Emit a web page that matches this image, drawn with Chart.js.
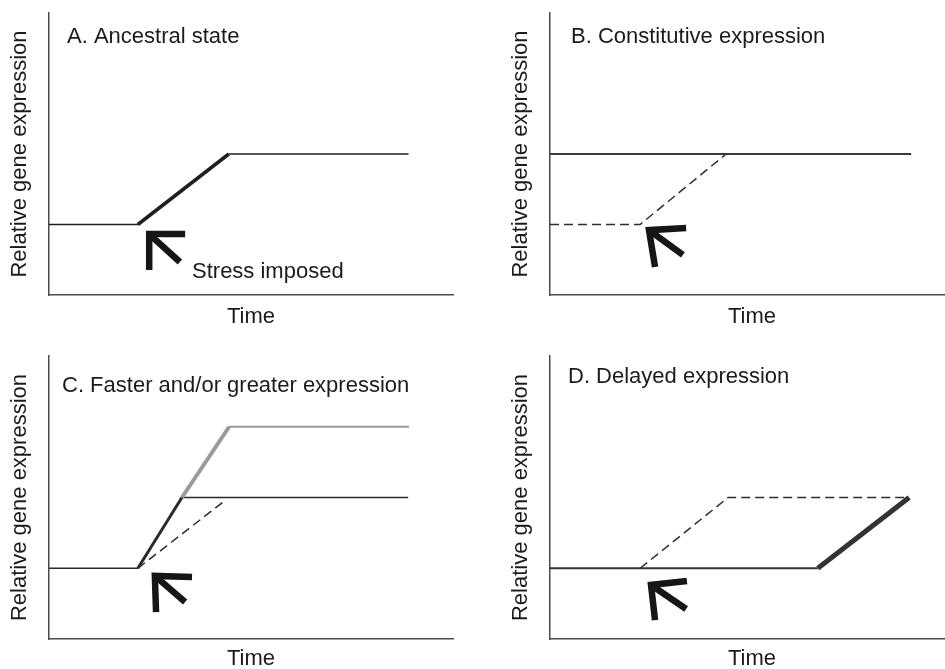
<!DOCTYPE html>
<html>
<head>
<meta charset="utf-8">
<script src="https://cdn.jsdelivr.net/npm/chart.js@4.4.1/dist/chart.umd.min.js"></script>
<style>
  html, body { margin: 0; padding: 0; background: #fff; overflow: hidden; width: 945px; height: 669px; }
  .panel { position: absolute; }
</style>
</head>
<body>
<div class="panel" style="left:0;top:0;width:470px;height:330px"><canvas id="cA"></canvas></div>
<div class="panel" style="left:470px;top:0;width:500px;height:330px"><canvas id="cB"></canvas></div>
<div class="panel" style="left:0;top:330px;width:470px;height:339px"><canvas id="cC"></canvas></div>
<div class="panel" style="left:470px;top:330px;width:500px;height:339px"><canvas id="cD"></canvas></div>
<script>
// ---------- DATA ----------
const panelTitles = ["A. Ancestral state", "B. Constitutive expression", "C. Faster and/or greater expression", "D. Delayed expression"];
const xAxisTitle = "Time";
const yAxisTitle = "Relative gene expression";
const stressLabel = "Stress imposed";

// Panel A – ancestral response
const aTime = [0, 2.2, 4.45, 8.9];
const aExpr = [2.5, 2.5, 5, 5];

// Panel B – constitutive (solid) vs ancestral (dashed)
const bDerivedTime = [0, 8.94];
const bDerivedExpr = [5, 5];
const bAncestralTime = [0, 2.23, 4.36];
const bAncestralExpr = [2.5, 2.5, 5];

// Panel C – faster (dark) / greater (grey) vs ancestral (dashed)
const cFasterTime = [0, 2.2, 3.29, 8.89];
const cFasterExpr = [2.5, 2.5, 5, 5];
const cGreaterTime = [3.29, 4.46, 8.91];
const cGreaterExpr = [5, 7.5, 7.5];
const cAncestralTime = [2.2, 4.38];
const cAncestralExpr = [2.5, 4.92];

// Panel D – delayed (solid) vs ancestral (dashed)
const dDelayedTime = [0, 6.63, 8.89];
const dDelayedExpr = [2.5, 2.5, 5];
const dAncestralTime = [2.23, 4.41, 8.89];
const dAncestralExpr = [2.5, 5, 5];

// Stress arrows (head: leg end, tip, leg end; shaft: tip, tail)
const aArrowHeadX = [2.48, 2.48, 3.37]; const aArrowHeadY = [0.89, 2.16, 2.16];
const aArrowShaftX = [2.48, 3.24];      const aArrowShaftY = [2.16, 1.17];
const bArrowHeadX = [2.6, 2.45, 3.37];  const bArrowHeadY = [0.99, 2.3, 2.38];
const bArrowShaftX = [2.45, 3.29];      const bArrowShaftY = [2.3, 1.42];
const cArrowHeadX = [2.65, 2.62, 3.54]; const cArrowHeadY = [0.95, 2.23, 2.19];
const cArrowShaftX = [2.62, 3.37];      const cArrowShaftY = [2.23, 1.31];
const dArrowHeadX = [2.6, 2.5, 3.39];   const dArrowHeadY = [0.67, 1.91, 2.05];
const dArrowShaftX = [2.5, 3.37];       const dArrowShaftY = [1.91, 1.06];

// Axis range
const xRange = [0, 10];
const yRange = [0, 10];

// ---------- HELPERS ----------
const FONT = "'Liberation Sans', Arial, Helvetica, sans-serif";
const INK = "#1e1a1b";
function pts(xs, ys) { return xs.map((x, i) => ({ x: x, y: ys[i] })); }
function line(xs, ys, style) {
  const widths = style.widths;
  return Object.assign({
    data: pts(xs, ys),
    showLine: true,
    pointRadius: 0,
    pointHoverRadius: 0,
    tension: 0,
    fill: false,
    borderCapStyle: 'butt',
    borderJoinStyle: 'miter',
    segment: widths ? { borderWidth: ctx => widths[ctx.p0DataIndex] } : undefined
  }, style.ds);
}
function arrow(hx, hy, sx, sy) {
  return [
    line(hx, hy, { ds: { borderColor: '#161616', borderWidth: 6.5 } }),
    line(sx, sy, { ds: { borderColor: '#161616', borderWidth: 6.5 } })
  ];
}

const textPlugin = {
  id: 'panelText',
  afterDraw(chart, args, opts) {
    const ctx = chart.ctx, ca = chart.chartArea;
    ctx.save();
    ctx.fillStyle = INK;
    ctx.font = "22px " + FONT;
    ctx.textBaseline = 'alphabetic';
    ctx.textAlign = 'left';
    ctx.fillText(opts.title, ca.left + opts.tdx, ca.top + opts.tdy);
    if (opts.note) {
      const xs = chart.scales.x, ys = chart.scales.y;
      ctx.fillText(opts.note, xs.getPixelForValue(opts.noteX), ys.getPixelForValue(opts.noteY));
    }
    ctx.restore();
  }
};

function makeChart(id, datasets, p) {
  new Chart(document.getElementById(id), {
    type: 'scatter',
    data: { datasets: datasets },
    plugins: [textPlugin],
    options: {
      responsive: true,
      maintainAspectRatio: false,
      animation: false,
      events: [],
      layout: { autoPadding: false, padding: { left: p.padLeft, top: p.padTop, right: p.padRight, bottom: 0 } },
      plugins: {
        legend: { display: false },
        tooltip: { enabled: false },
        panelText: p.text
      },
      scales: {
        x: {
          type: 'linear', min: xRange[0], max: xRange[1],
          grid: { display: false, drawTicks: false },
          border: { display: true, color: '#4a4a4a', width: 1.5 },
          ticks: { display: false },
          title: { display: true, text: xAxisTitle, color: INK, font: { family: FONT, size: 22, lineHeight: 1 }, padding: { top: 0, bottom: p.xTitlePad } },
          afterFit: s => { s.height = p.xHeight; }
        },
        y: {
          type: 'linear', min: yRange[0], max: yRange[1],
          grid: { display: false, drawTicks: false },
          border: { display: true, color: '#4a4a4a', width: 1.5 },
          ticks: { display: false },
          title: { display: true, text: yAxisTitle, color: INK, font: { family: FONT, size: 22, lineHeight: 1 }, padding: { top: 9, bottom: 0 } },
          afterFit: s => { s.width = 49; }
        }
      }
    }
  });
}

const dashed = { borderColor: '#2e2e2e', borderWidth: 1.5, borderDash: [9, 5] };

// Panel A
makeChart('cA', [
  line(aTime, aExpr, { widths: [1.5, 3.5, 1.5], ds: { borderColor: '#1f1f1f' } }),
  ...arrow(aArrowHeadX, aArrowHeadY, aArrowShaftX, aArrowShaftY)
], { padLeft: 0, padTop: 13, padRight: 17, xHeight: 35, xTitlePad: 2,
     text: { title: panelTitles[0], tdx: 18, tdy: 30, note: stressLabel, noteX: 3.54, noteY: 0.6 } });

// Panel B
makeChart('cB', [
  line(bDerivedTime, bDerivedExpr, { ds: { borderColor: '#3a3a3a', borderWidth: 2.2 } }),
  line(bAncestralTime, bAncestralExpr, { ds: dashed }),
  ...arrow(bArrowHeadX, bArrowHeadY, bArrowShaftX, bArrowShaftY)
], { padLeft: 31, padTop: 13, padRight: 16, xHeight: 35, xTitlePad: 2,
     text: { title: panelTitles[1], tdx: 21, tdy: 30 } });

// Panel C
makeChart('cC', [
  line(cGreaterTime, cGreaterExpr, { widths: [4, 2.2], ds: { borderColor: '#9a9a9a' } }),
  line(cFasterTime, cFasterExpr, { widths: [1.5, 3, 1.5], ds: { borderColor: '#2a2a2a' } }),
  line(cAncestralTime, cAncestralExpr, { ds: dashed }),
  ...arrow(cArrowHeadX, cArrowHeadY, cArrowShaftX, cArrowShaftY)
], { padLeft: 0, padTop: 26, padRight: 17, xHeight: 30, xTitlePad: -1,
     text: { title: panelTitles[2], tdx: 13, tdy: 36 } });

// Panel D
makeChart('cD', [
  line(dAncestralTime, dAncestralExpr, { ds: dashed }),
  line(dDelayedTime, dDelayedExpr, { widths: [2.2, 5], ds: { borderColor: '#333' } }),
  ...arrow(dArrowHeadX, dArrowHeadY, dArrowShaftX, dArrowShaftY)
], { padLeft: 31, padTop: 26, padRight: 16, xHeight: 30, xTitlePad: -1,
     text: { title: panelTitles[3], tdx: 18, tdy: 27 } });
</script>
</body>
</html>
